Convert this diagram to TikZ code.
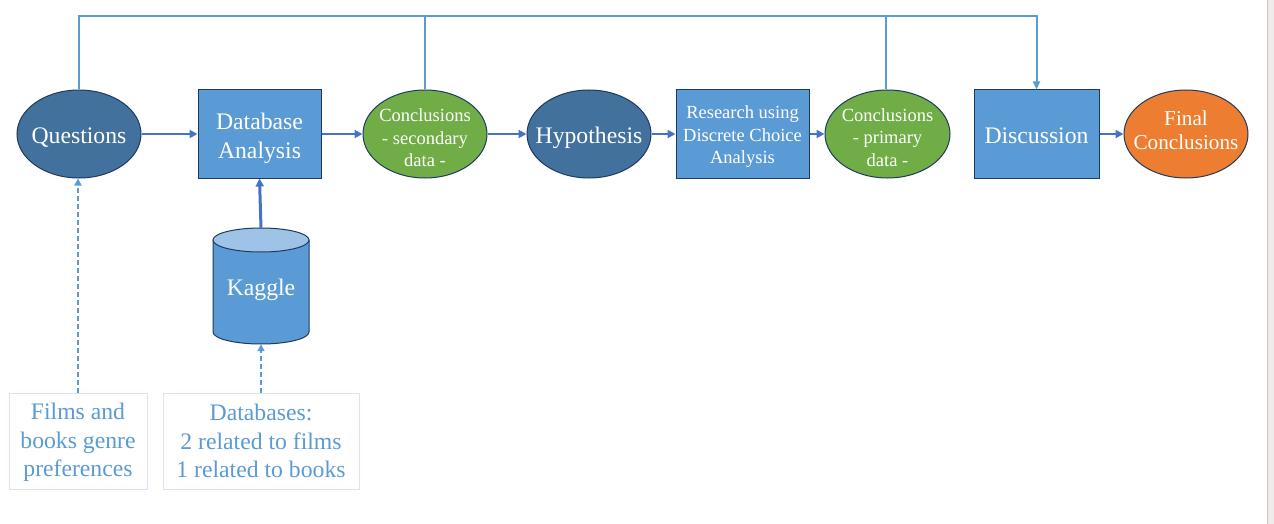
\documentclass[tikz,border=0pt]{standalone}
\usepackage{fontspec}
\setmainfont{Liberation Serif}
\usetikzlibrary{shapes.geometric,arrows.meta}
\definecolor{navy}{HTML}{1F3A5F}
\definecolor{darkblue}{HTML}{41719C}
\definecolor{midblue}{HTML}{5B9BD5}
\definecolor{lightblue}{HTML}{9DC3E6}
\definecolor{arrblue}{HTML}{4472C4}
\definecolor{cgreen}{HTML}{70AD47}
\definecolor{corange}{HTML}{ED7D31}
\definecolor{boxline}{HTML}{DAE3F3}
\definecolor{stripfill}{HTML}{EFEBE9}
\definecolor{stripline}{HTML}{CBC6C4}
\tikzset{
  big/.style={font=\fontsize{23.7}{29}\selectfont},
  small/.style={font=\fontsize{18.5}{22.5}\selectfont},
  tx/.style={text=white, align=center, inner sep=0pt},
  ell/.style={ellipse, draw=navy, line width=1pt, minimum width=124pt, minimum height=88pt, inner sep=0pt},
  rbox/.style={rectangle, draw=navy, line width=1pt, fill=midblue, minimum height=88pt, inner sep=0pt},
  tbox/.style={rectangle, draw=boxline, line width=1pt, minimum height=96pt, inner sep=0pt, text=midblue, align=center, font=\fontsize{23.7}{28.5}\selectfont},
  flow/.style={draw=arrblue, line width=2.2pt, -{Triangle[length=8pt,width=8pt]}},
  toplink/.style={draw=midblue, line width=2pt},
  dashlink/.style={draw=midblue, line width=1.7pt, dash pattern=on 5pt off 3pt, -{Triangle[length=7pt,width=7pt]}},
  cylbody/.style={fill=midblue, draw=navy, line width=1pt},
  cyltop/.style={fill=lightblue, draw=navy, line width=1pt}
}
\begin{document}
\begin{tikzpicture}[x=1pt,y=-1pt]
\useasboundingbox (0,0) rectangle (1274,524);
\fill[white] (0,0) rectangle (1274,524);
\fill[stripfill] (1267,0) rectangle (1274,524);
\draw[stripline, line width=1pt] (1267,0) -- (1267,524);

\node[ell, fill=darkblue, label={[tx,big,yshift=-4pt]center:Questions}] (q) at (79,134) {};
\node[rbox, minimum width=123pt, label={[tx,big,yshift=-4pt]center:{Database\\Analysis}}] (da) at (259.5,134) {};
\node[ell, fill=cgreen, label={[tx,small,yshift=-4pt]center:{Conclusions\\- secondary\\data -}}] (c2) at (425,134) {};
\node[ell, fill=darkblue, label={[tx,big,yshift=-4pt]center:Hypothesis}] (h) at (589,134) {};
\node[rbox, minimum width=133pt, label={[tx,small,yshift=-3pt]center:{Research using\\Discrete Choice\\Analysis}}] (r) at (742.5,134) {};
\node[ell, fill=cgreen, minimum width=125pt, label={[tx,small,yshift=-3.5pt]center:{Conclusions\\- primary\\data -}}] (c1) at (887.5,134) {};
\node[rbox, minimum width=125pt, label={[tx,big,yshift=-2pt]center:Discussion}] (disc) at (1036.5,134) {};
\node[ell, fill=corange, label={[tx,font=\fontsize{21.2}{24.5}\selectfont,yshift=4pt]center:{Final\\Conclusions}}] (fin) at (1186,134) {};

% Kaggle database cylinder
\path[cylbody] (213,240) -- (213,332) arc[start angle=180, end angle=0, x radius=48, y radius=12] -- (309,240) -- cycle;
\path[cyltop] (261,240) ellipse [x radius=48, y radius=12];
\node[rectangle, minimum width=96pt, minimum height=116pt, inner sep=0pt, label={[tx,big,yshift=-4pt]center:Kaggle}] (k) at (261,286) {};

\node[tbox, minimum width=138pt, text depth=2pt] (films) at (78,441) {Films and\\books genre\\preferences};
\node[tbox, minimum width=196pt] (dbs) at (261,441) {Databases:\\2 related to films\\1 related to books};

\coordinate (topy) at (0,16);
\draw[toplink] (q.north) -- (q.north |- topy) -| (c2.north);
\draw[toplink] ([xshift=-1.5pt]c1.north) -- ([xshift=-1.5pt]c1.north |- topy);
\draw[toplink, -{Triangle[length=8pt,width=7pt]}] (q.north |- topy) -| (disc.north);

\draw[flow] (q) -- (da);
\draw[flow] (da) -- (c2);
\draw[flow] (c2) -- (h);
\draw[flow] (h) -- (r);
\draw[flow] (r) -- (c1);
\draw[flow] (disc) -- (fin);
\draw[draw=arrblue, line width=3pt, -{Triangle[length=8pt,width=8pt]}] (k.north) -- (da.south);
\draw[dashlink] (films.north) -- (films.north |- q.south);
\draw[dashlink] (dbs.north) -- (k.south);
\end{tikzpicture}
\end{document}
